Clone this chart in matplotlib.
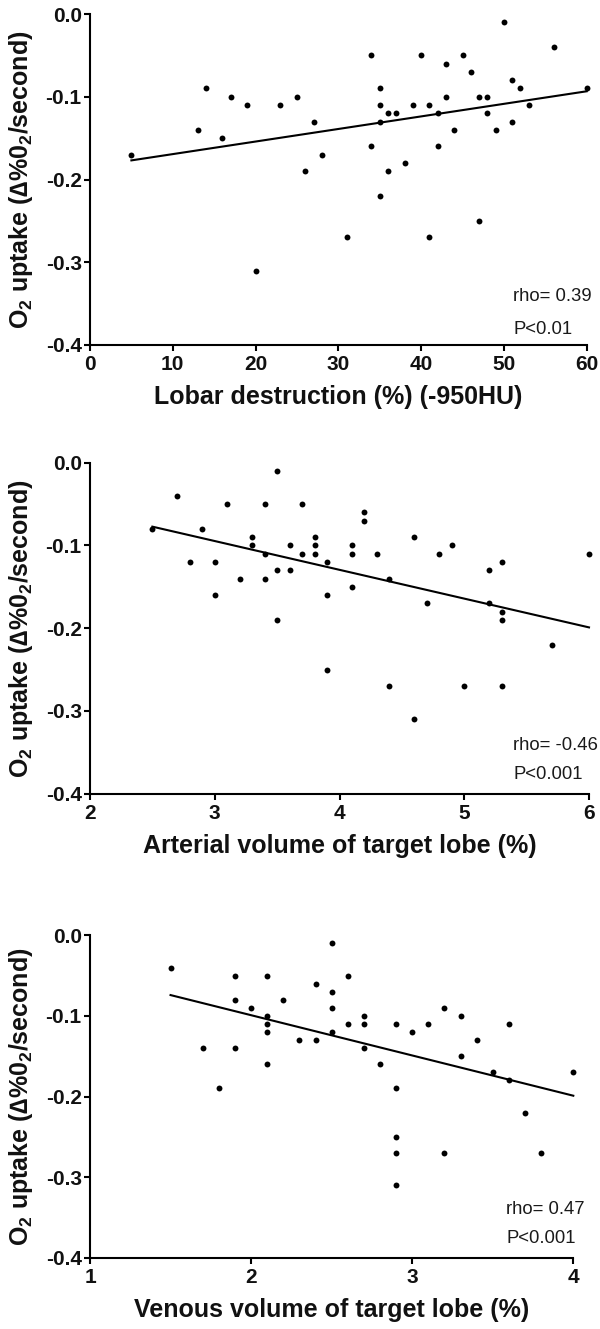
import numpy as np
import matplotlib
matplotlib.use("Agg")
import matplotlib.pyplot as plt

plt.rcParams['font.family'] = ['Liberation Sans', 'DejaVu Sans']
plt.rcParams['mathtext.fontset'] = 'custom'
plt.rcParams['mathtext.rm'] = 'Liberation Sans:bold'
plt.rcParams['mathtext.bf'] = 'Liberation Sans:bold'
plt.rcParams['mathtext.it'] = 'Liberation Sans:bold'

# ---- data ----
p1_x = [5, 13, 14, 16, 17, 19, 20, 23, 25, 26, 27, 28, 31, 34, 34, 35, 35, 35, 35, 36,
        36, 37, 38, 39, 40, 41, 41, 42, 42, 43, 43, 44, 45, 46, 47, 47, 48, 48, 49, 50,
        51, 51, 52, 53, 56, 60]
p1_y = [-0.17, -0.14, -0.09, -0.15, -0.10, -0.11, -0.31, -0.11, -0.10, -0.19,
        -0.13, -0.17, -0.27, -0.05, -0.16, -0.09, -0.11, -0.13, -0.22, -0.12,
        -0.19, -0.12, -0.18, -0.11, -0.05, -0.11, -0.27, -0.12, -0.16, -0.06,
        -0.10, -0.14, -0.05, -0.07, -0.10, -0.25, -0.10, -0.12, -0.14, -0.01,
        -0.08, -0.13, -0.09, -0.11, -0.04, -0.09]

p2_x = [2.5, 2.7, 2.8, 2.9, 3.0, 3.0, 3.1, 3.2, 3.3, 3.3, 3.4, 3.4, 3.4, 3.5, 3.5, 3.5,
        3.6, 3.6, 3.7, 3.7, 3.8, 3.8, 3.8, 3.9, 3.9, 3.9, 4.1, 4.1, 4.1, 4.2, 4.2, 4.3,
        4.4, 4.4, 4.6, 4.6, 4.7, 4.8, 4.9, 5.0, 5.2, 5.2, 5.3, 5.3, 5.3, 5.3, 5.7, 6.0]
p2_y = [-0.08, -0.04, -0.12, -0.08, -0.12, -0.16, -0.05, -0.14, -0.09, -0.10,
        -0.05, -0.11, -0.14, -0.01, -0.13, -0.19, -0.10, -0.13, -0.05, -0.11,
        -0.09, -0.10, -0.11, -0.12, -0.16, -0.25, -0.10, -0.11, -0.15, -0.06,
        -0.07, -0.11, -0.14, -0.27, -0.09, -0.31, -0.17, -0.11, -0.10, -0.27,
        -0.13, -0.17, -0.12, -0.18, -0.19, -0.27, -0.22, -0.11]

p3_x = [1.5, 1.7, 1.8, 1.9, 1.9, 1.9, 2.0, 2.1, 2.1, 2.1, 2.1, 2.1, 2.2, 2.3, 2.4, 2.4,
        2.5, 2.5, 2.5, 2.5, 2.6, 2.6, 2.7, 2.7, 2.7, 2.8, 2.9, 2.9, 2.9, 2.9, 2.9, 3.0,
        3.1, 3.2, 3.2, 3.3, 3.3, 3.4, 3.5, 3.6, 3.6, 3.7, 3.8, 4.0]
p3_y = [-0.04, -0.14, -0.19, -0.05, -0.08, -0.14, -0.09, -0.05, -0.10, -0.11,
        -0.12, -0.16, -0.08, -0.13, -0.06, -0.13, -0.01, -0.07, -0.09, -0.12,
        -0.05, -0.11, -0.10, -0.11, -0.14, -0.16, -0.11, -0.19, -0.25, -0.27,
        -0.31, -0.12, -0.11, -0.09, -0.27, -0.10, -0.15, -0.13, -0.17, -0.11,
        -0.18, -0.22, -0.27, -0.17]

y_ticks = [0.0, -0.1, -0.2, -0.3, -0.4]
y_tick_labels = ["0.0", "-0.1", "-0.2", "-0.3", "-0.4"]
p1_xticks = [0, 10, 20, 30, 40, 50, 60]
p2_xticks = [2, 3, 4, 5, 6]
p3_xticks = [1, 2, 3, 4]

x_labels = ["Lobar destruction (%) (-950HU)",
            "Arterial volume of target lobe (%)",
            "Venous volume of target lobe (%)"]
stats_rho = ["rho= 0.39", "rho= -0.46", "rho= 0.47"]
stats_p = ["P<0.01", "P<0.001", "P<0.001"]
y_label = "O$_2$ uptake (\u2206%0$_2$/second)"

W, H = 600, 1329
fig = plt.figure(figsize=(W / 100, H / 100), dpi=100)

# axes rectangles in pixels: left, right, top, bottom
rects = [(90, 586.7, 14, 345), (90, 589, 462.7, 793.7), (90, 573.3, 935.3, 1257.7)]
xticks_all = [p1_xticks, p2_xticks, p3_xticks]
data = [(p1_x, p1_y), (p2_x, p2_y), (p3_x, p3_y)]
text_pos = [(0.852, 0.146, 0.048), (0.848, 0.147, 0.059), (0.861, 0.148, 0.060)]

for i in range(3):
    l, r, t, b = rects[i]
    ax = fig.add_axes([l / W, 1 - b / H, (r - l) / W, (b - t) / H])
    xs, ys = np.array(data[i][0], float), np.array(data[i][1], float)
    ax.scatter(xs, ys, s=18, color='black', linewidths=0, zorder=3, clip_on=False)
    k, c = np.polyfit(xs, ys, 1)
    xl = np.array([xs.min(), xs.max()])
    ax.plot(xl, k * xl + c, color='black', lw=1.5, zorder=2, clip_on=False)
    xt = xticks_all[i]
    ax.set_xlim(xt[0], xt[-1])
    ax.set_ylim(-0.4, 0.0)
    ax.set_xticks(xt)
    ax.set_xticklabels([str(v) for v in xt])
    ax.set_yticks(y_ticks)
    ax.set_yticklabels(y_tick_labels)
    for s in ['top', 'right']:
        ax.spines[s].set_visible(False)
    for s in ['left', 'bottom']:
        ax.spines[s].set_linewidth(1.5)
        ax.spines[s].set_color('black')
    ax.tick_params(axis='both', direction='out', length=4, width=1.5, color='black',
                   labelsize=15, pad=2)
    ax.tick_params(axis='x', pad=3.5)
    for lab in ax.get_xticklabels() + ax.get_yticklabels():
        lab.set_fontweight('bold')
        lab.set_color('#111111')
    ax.set_xlabel(x_labels[i], fontsize=18, fontweight='bold', color='#111111')
    ax.xaxis.set_label_coords(0.5, -40 / (b - t))
    ax.set_ylabel(y_label, fontsize=18, fontweight='bold', color='#111111')
    ax.yaxis.set_label_coords(-55 / (r - l), 0.5)
    tx, ty1, ty2 = text_pos[i]
    ax.text(tx, ty1, stats_rho[i], transform=ax.transAxes, fontsize=13.3,
            ha='left', va='center', color='#1a1a1a')
    ax.text(tx, ty2, stats_p[i], transform=ax.transAxes, fontsize=13.3,
            ha='left', va='center', color='#1a1a1a')

fig.savefig("out.png", dpi=100)
